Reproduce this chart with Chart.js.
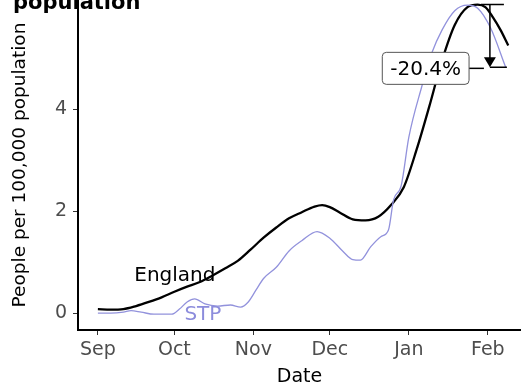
<!DOCTYPE html>
<html>
<head>
<meta charset="utf-8">
<script src="https://cdn.jsdelivr.net/npm/chart.js@4.4.1/dist/chart.umd.min.js"></script>
<style>
  html, body { margin: 0; padding: 0; background: #fff; }
  #wrap { width: 521px; height: 384px; }
</style>
</head>
<body>
<div id="wrap"><canvas id="rateChart" width="521" height="384"></canvas></div>
<script>
// x values are days counted from 1 Sep
const monthTicks = [0, 30, 61, 91, 122, 153];
const monthLabels = ['Sep', 'Oct', 'Nov', 'Dec', 'Jan', 'Feb'];
const yTicks = [0, 2, 4];

const englandDays = [0, 5, 10, 15, 20, 25, 30, 35, 40, 45, 50, 55, 60, 65, 70, 75, 80, 85, 88, 91, 95, 100, 105, 110, 115, 120, 125, 130, 135, 140, 145, 149, 152, 155, 158, 161];
const englandRate = [0.08, 0.07, 0.08, 0.14, 0.22, 0.31, 0.42, 0.52, 0.61, 0.74, 0.88, 1.03, 1.25, 1.48, 1.68, 1.86, 1.98, 2.09, 2.12, 2.08, 1.97, 1.84, 1.82, 1.89, 2.12, 2.47, 3.2, 4.05, 4.95, 5.65, 6.0, 6.05, 6.0, 5.8, 5.55, 5.25];

const stpDays = [0, 5, 10, 13, 17, 22, 29, 32, 35, 38, 42, 47, 52, 56, 59, 62, 65, 70, 75, 80, 86, 91, 96, 100, 103, 107, 111, 114, 116, 119, 122, 127, 131, 135, 140, 145, 149, 154, 160];
const stpRate = [0.0, 0.0, 0.02, 0.05, 0.02, -0.02, -0.02, 0.08, 0.22, 0.28, 0.18, 0.14, 0.16, 0.12, 0.22, 0.45, 0.68, 0.9, 1.22, 1.42, 1.6, 1.47, 1.22, 1.05, 1.04, 1.3, 1.5, 1.63, 2.22, 2.5, 3.45, 4.43, 5.1, 5.55, 5.93, 6.04, 5.98, 5.6, 4.82];

// label anchors [day, rate]
const englandLabelAt = [30.2, 0.73];
const stpLabelAt = [41.2, -0.04];

// fall from peak annotation
const peakRate = 6.05;
const latestRate = 4.82;
const arrowDay = 153.8;
const changeBoxAt = [128.6, 4.8];
const changeLabel = '-20.4%';

const FONT = '"DejaVu Sans", sans-serif';

const annotate = {
    id: 'annotate',
    afterDatasetsDraw(chart) {
        const { ctx, scales: { x, y } } = chart;
        ctx.save();

        // title (cut off at the top in the original)
        ctx.fillStyle = '#000';
        ctx.font = 'bold 21px ' + FONT;
        ctx.textAlign = 'left';
        ctx.textBaseline = 'alphabetic';
        ctx.fillText('population', 13, 9);

        // series labels
        ctx.font = '20px ' + FONT;
        ctx.textAlign = 'center';
        ctx.textBaseline = 'middle';
        ctx.fillStyle = '#000';
        ctx.fillText('England', x.getPixelForValue(englandLabelAt[0]), y.getPixelForValue(englandLabelAt[1]));
        ctx.fillStyle = '#8c8cdc';
        ctx.fillText('STP', x.getPixelForValue(stpLabelAt[0]), y.getPixelForValue(stpLabelAt[1]));

        // arrow from peak to latest
        const ax = x.getPixelForValue(arrowDay);
        const yTop = y.getPixelForValue(peakRate);
        const yBot = y.getPixelForValue(latestRate);
        ctx.strokeStyle = '#000';
        ctx.lineWidth = 1.5;
        ctx.beginPath();
        ctx.moveTo(ax - 9, yTop); ctx.lineTo(ax + 14, yTop);
        ctx.moveTo(ax, yTop); ctx.lineTo(ax, yBot - 8);
        ctx.moveTo(ax, yBot); ctx.lineTo(ax + 17, yBot);
        ctx.stroke();
        ctx.fillStyle = '#000';
        ctx.beginPath();
        ctx.moveTo(ax - 6, yBot - 10);
        ctx.lineTo(ax + 6, yBot - 10);
        ctx.lineTo(ax, yBot);
        ctx.closePath();
        ctx.fill();

        // label box
        ctx.font = '20px ' + FONT;
        const bx = x.getPixelForValue(changeBoxAt[0]);
        const by = y.getPixelForValue(changeBoxAt[1]);
        const w = ctx.measureText(changeLabel).width + 16;
        const h = 32;
        ctx.beginPath();
        ctx.moveTo(bx + w / 2, by); ctx.lineTo(ax - 6, by);
        ctx.stroke();
        ctx.fillStyle = '#fff';
        ctx.strokeStyle = '#555';
        ctx.lineWidth = 1;
        ctx.beginPath();
        ctx.roundRect(bx - w / 2, by - h / 2, w, h, 4);
        ctx.fill();
        ctx.stroke();
        ctx.fillStyle = '#000';
        ctx.textAlign = 'center';
        ctx.textBaseline = 'middle';
        ctx.fillText(changeLabel, bx, by + 1);

        ctx.restore();
    }
};

const toPoints = (xs, ys) => xs.map((d, i) => ({ x: d, y: ys[i] }));

new Chart(document.getElementById('rateChart'), {
    type: 'line',
    data: {
        datasets: [
            {
                label: 'STP',
                data: toPoints(stpDays, stpRate),
                borderColor: '#9292dc',
                borderWidth: 1.3,
                pointRadius: 0,
                cubicInterpolationMode: 'monotone'
            },
            {
                label: 'England',
                data: toPoints(englandDays, englandRate),
                borderColor: '#000',
                borderWidth: 2.3,
                pointRadius: 0,
                cubicInterpolationMode: 'monotone'
            }
        ]
    },
    options: {
        responsive: false,
        animation: false,
        devicePixelRatio: 1,
        layout: { padding: 0 },
        plugins: {
            legend: { display: false },
            tooltip: { enabled: false }
        },
        scales: {
            x: {
                type: 'linear',
                min: -7.8,
                max: 166,
                afterBuildTicks: s => { s.ticks = monthTicks.map(v => ({ value: v })); },
                afterFit: s => { s.height = 54; s.paddingLeft = 0; s.paddingRight = 0; },
                ticks: {
                    callback: v => monthLabels[monthTicks.indexOf(v)],
                    color: '#4d4d4d',
                    font: { family: FONT, size: 19 },
                    padding: 4,
                    maxRotation: 0
                },
                grid: { drawOnChartArea: false, tickLength: 5, color: '#333' },
                border: { color: '#000', width: 2 },
                title: {
                    display: true,
                    text: 'Date',
                    color: '#000',
                    font: { family: FONT, size: 19 },
                    padding: { bottom: -4, top: 0 }
                }
            },
            y: {
                min: -0.33,
                max: 6.14,
                afterBuildTicks: s => { s.ticks = yTicks.map(v => ({ value: v })); },
                afterFit: s => { s.width = 78; s.paddingTop = 0; s.paddingBottom = 0; },
                ticks: {
                    color: '#4d4d4d',
                    font: { family: FONT, size: 19 },
                    padding: 6
                },
                grid: { drawOnChartArea: false, tickLength: 5, color: '#333' },
                border: { color: '#000', width: 2 },
                title: {
                    display: true,
                    text: 'People per 100,000 population',
                    color: '#000',
                    font: { family: FONT, size: 18.5 },
                    padding: { top: 9, bottom: 0 }
                }
            }
        }
    },
    plugins: [annotate]
});
</script>
</body>
</html>
